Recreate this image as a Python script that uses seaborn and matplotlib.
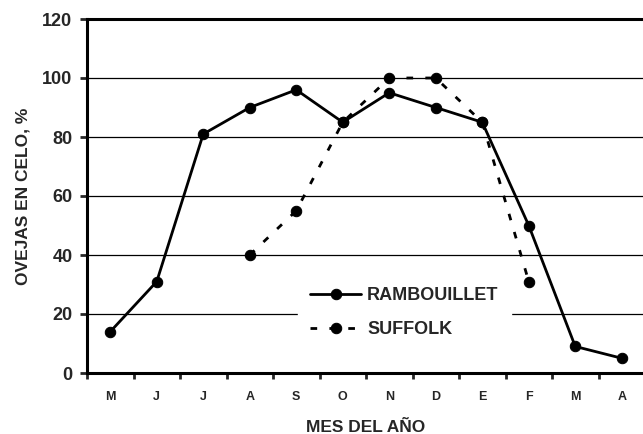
import pandas as pd
import numpy as np
import matplotlib
matplotlib.use("Agg")
import matplotlib.pyplot as plt
import seaborn as sns

# ==============================
# DATOS
# ==============================
meses = ["M", "J", "J", "A", "S", "O", "N", "D", "E", "F", "M", "A"]
rambouillet = [14, 31, 81, 90, 96, 85, 95, 90, 85, 50, 9, 5]
suffolk = [np.nan, np.nan, np.nan, 40, 55, 85, 100, 100, 85, 31, np.nan, np.nan]

df = pd.DataFrame({
    "pos": np.arange(len(meses)),
    "RAMBOUILLET": rambouillet,
    "SUFFOLK": suffolk,
})

# ==============================
# ESTILO
# ==============================
sns.set_style("white")
plt.rcParams["font.family"] = ["Liberation Sans", "DejaVu Sans"]
plt.rcParams["font.weight"] = "bold"

fig = plt.figure(figsize=(6.43, 4.34), dpi=100)
ax = fig.add_axes([87 / 643, 61 / 434, 558 / 643, 354 / 434])

# lineas de referencia
for v in [20, 40, 60, 80, 100]:
    ax.axhline(v, color="black", lw=0.9, zorder=0)

sns.lineplot(data=df, x="pos", y="RAMBOUILLET", ax=ax, color="black", lw=2.0,
             marker="o", markersize=7.5, markeredgecolor="black", label="RAMBOUILLET", zorder=3)
sns.lineplot(data=df.dropna(), x="pos", y="SUFFOLK", ax=ax, color="black", lw=2.0,
             marker="o", markersize=7.5, markeredgecolor="black", label="SUFFOLK", zorder=3,
             dashes=False)
ax.lines[-1].set_dashes([2.4, 4.4])

ax.set_xlim(-0.5, 11.5)
ax.set_ylim(0, 120)
ax.set_yticks(range(0, 121, 20))
ax.set_xticks(range(len(meses)))
ax.set_xticklabels(meses, fontsize=9, fontweight="bold")
ax.set_xticks(np.arange(-0.5, 12, 1), minor=True)
ax.tick_params(axis="x", which="major", length=0, pad=13)
ax.tick_params(axis="x", which="minor", length=4, width=2, direction="out", bottom=True)
ax.tick_params(axis="y", length=5, width=2, direction="out", left=True, labelsize=13, pad=5.5)
for lab in ax.get_yticklabels():
    lab.set_fontweight("bold")

for s in ["left", "bottom", "top"]:
    ax.spines[s].set_linewidth(2.2)
    ax.spines[s].set_color("black")
ax.spines["right"].set_visible(False)

ax.set_xlabel("MES DEL AÑO", fontsize=12.5, fontweight="bold", labelpad=12)
ax.set_ylabel("OVEJAS EN CELO, %", fontsize=12.5, fontweight="bold")
ax.yaxis.set_label_coords(-0.102, 0.5)

leg = ax.legend(loc="center", bbox_to_anchor=(0.569, 0.171), frameon=True, fancybox=False,
                edgecolor="white", facecolor="white", framealpha=1, fontsize=13,
                handlelength=2.8, handletextpad=0.35, borderpad=0.7, labelspacing=0.95)
for t in leg.get_texts():
    t.set_fontweight("bold")

fig.savefig("out.png", dpi=100)
